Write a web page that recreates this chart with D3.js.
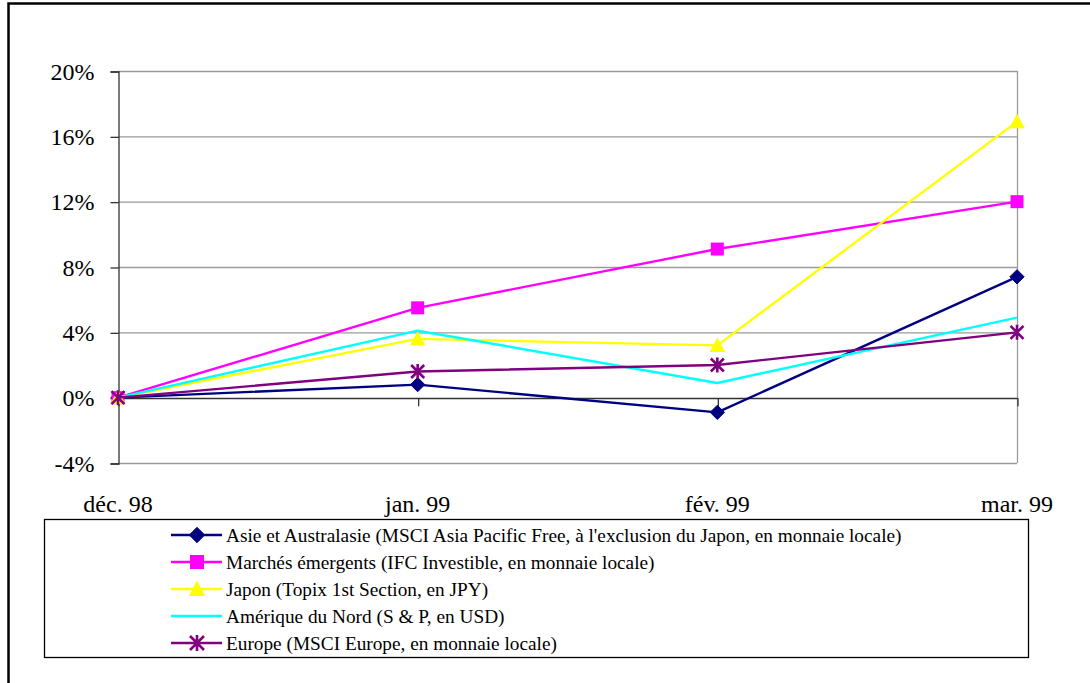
<!DOCTYPE html>
<html>
<head>
<meta charset="utf-8">
<script src="https://cdn.jsdelivr.net/npm/d3@7"></script>
<style>
  html, body { margin: 0; padding: 0; background: #fff; }
  svg, svg text { font-family: "Times New Roman", "Liberation Serif", Tinos, "DejaVu Serif", serif; }
</style>
</head>
<body>
<svg id="chart" width="1090" height="683"></svg>
<script>
// Monthly cumulative index performance, Dec 1998 to Mar 1999
const months = ["déc. 98", "jan. 99", "fév. 99", "mar. 99"];
const yTicks = [-0.04, 0, 0.04, 0.08, 0.12, 0.16, 0.20];

const asieValues      = [0, 0.008, -0.009, 0.074];
const emergentsValues = [0, 0.055, 0.091, 0.120];
const japonValues     = [0, 0.036, 0.032, 0.169];
const ameriqueValues  = [0, 0.041, 0.009, 0.049];
const europeValues    = [0, 0.016, 0.020, 0.040];

const seriesNames = [
  "Asie et Australasie (MSCI Asia Pacific Free, à l'exclusion du Japon, en monnaie locale)",
  "Marchés émergents (IFC Investible, en monnaie locale)",
  "Japon (Topix 1st Section, en JPY)",
  "Amérique du Nord (S & P, en USD)",
  "Europe (MSCI Europe, en monnaie locale)"
];

const series = [
  { name: seriesNames[0], values: asieValues,      color: "#000080", marker: "diamond" },
  { name: seriesNames[1], values: emergentsValues, color: "#FF00FF", marker: "square" },
  { name: seriesNames[2], values: japonValues,     color: "#FFFF00", marker: "triangle" },
  { name: seriesNames[3], values: ameriqueValues,  color: "#00FFFF", marker: "none" },
  { name: seriesNames[4], values: europeValues,    color: "#800080", marker: "star" }
];

const serifFont = "'Times New Roman', 'Liberation Serif', Tinos, 'DejaVu Serif', serif";

const svg = d3.select("#chart");

// Outer chart frame (extends past the right and bottom edges)
svg.append("rect")
  .attr("x", 8.5).attr("y", 3.5)
  .attr("width", 1200).attr("height", 800)
  .attr("fill", "none").attr("stroke", "#000").attr("stroke-width", 2.5);

const plot = { left: 118, right: 1017, top: 71, bottom: 463 };

const x = d3.scalePoint().domain(months).range([plot.left, plot.right]).padding(0);
const y = d3.scaleLinear().domain([-0.04, 0.20]).range([plot.bottom, plot.top]);

// Horizontal gridlines and plot border
const grid = svg.append("g");
grid.selectAll("line.grid")
  .data(yTicks)
  .join("line")
  .attr("x1", plot.left).attr("x2", plot.right)
  .attr("y1", d => y(d) + 0.5).attr("y2", d => y(d) + 0.5)
  .attr("stroke", "#9a9a9a").attr("stroke-width", 1.3);
grid.append("line")
  .attr("x1", plot.right + 0.5).attr("x2", plot.right + 0.5)
  .attr("y1", plot.top).attr("y2", plot.bottom)
  .attr("stroke", "#9a9a9a").attr("stroke-width", 1.3);

// Y axis
const yAxis = d3.axisLeft(y)
  .tickValues(yTicks)
  .tickSize(8)
  .tickPadding(16)
  .tickFormat(d => Math.round(d * 100) + "%");
const gy = svg.append("g")
  .attr("transform", `translate(${plot.left + 0.5},0.5)`)
  .call(yAxis)
  .attr("font-family", serifFont)
  .attr("font-size", 24);
gy.select(".domain").attr("stroke", "#333").attr("stroke-width", 1.3);
gy.selectAll(".tick line").attr("stroke", "#333").attr("stroke-width", 1.3);
gy.selectAll(".tick text").attr("fill", "#000");

// X axis along the zero line
const xAxis = d3.axisBottom(x).tickSize(8).tickSizeOuter(0).tickFormat(() => "");
const gx = svg.append("g")
  .attr("transform", `translate(0.5,${y(0) + 0.5})`)
  .call(xAxis);
gx.select(".domain").attr("stroke", "#333").attr("stroke-width", 1.3);
gx.selectAll(".tick line").attr("stroke", "#333").attr("stroke-width", 1.3);

// Category labels below the plot
svg.append("g")
  .attr("font-family", serifFont)
  .attr("font-size", 24)
  .selectAll("text")
  .data(months)
  .join("text")
  .attr("x", d => x(d))
  .attr("y", 512)
  .attr("text-anchor", "middle")
  .attr("fill", "#000")
  .text(d => d);

// Marker shapes
function drawMarker(g, type, color, size) {
  const s = size;
  if (type === "diamond") {
    g.append("path")
      .attr("d", `M0,${-s * 0.55}L${s * 0.55},0L0,${s * 0.55}L${-s * 0.55},0Z`)
      .attr("fill", color).attr("stroke", color).attr("stroke-width", 1);
  } else if (type === "square") {
    g.append("rect")
      .attr("x", -s / 2).attr("y", -s / 2).attr("width", s).attr("height", s)
      .attr("fill", color);
  } else if (type === "triangle") {
    g.append("path")
      .attr("d", `M0,${-s * 0.6}L${s * 0.6},${s * 0.5}L${-s * 0.6},${s * 0.5}Z`)
      .attr("fill", color);
  } else if (type === "star") {
    const r = s * 0.5;
    g.append("path")
      .attr("d", `M${-r},${-r}L${r},${r}M${-r},${r}L${r},${-r}M0,${-r * 1.15}L0,${r * 1.15}`)
      .attr("stroke", color).attr("stroke-width", 2.6).attr("fill", "none");
  }
}

const line = d3.line()
  .x((d, i) => x(months[i]))
  .y(d => y(d));

const marks = svg.append("g");
series.forEach(s => {
  const g = marks.append("g");
  g.append("path")
    .datum(s.values)
    .attr("d", line)
    .attr("fill", "none")
    .attr("stroke", s.color)
    .attr("stroke-width", 2.4)
    .attr("stroke-linejoin", "round");
  s.values.forEach((v, i) => {
    const mg = g.append("g").attr("transform", `translate(${x(months[i])},${y(v)})`);
    drawMarker(mg, s.marker, s.color, 13);
  });
});

// Legend
const legend = { x: 44, y: 519, w: 984, h: 138 };
svg.append("rect")
  .attr("x", legend.x + 0.5).attr("y", legend.y + 0.5)
  .attr("width", legend.w).attr("height", legend.h)
  .attr("fill", "#fff").attr("stroke", "#000").attr("stroke-width", 1.3);

const rowY = d3.scalePoint().domain(seriesNames).range([535, 643]);
const lg = svg.append("g")
  .attr("font-family", serifFont)
  .attr("font-size", 19.3);
series.forEach(s => {
  const cy = rowY(s.name);
  const row = lg.append("g");
  row.append("line")
    .attr("x1", 171).attr("x2", 222)
    .attr("y1", cy).attr("y2", cy)
    .attr("stroke", s.color).attr("stroke-width", 2.6);
  const mg = row.append("g").attr("transform", `translate(197,${cy})`);
  drawMarker(mg, s.marker, s.color, 14);
  row.append("text")
    .attr("x", 226).attr("y", cy)
    .attr("dy", "0.35em")
    .attr("fill", "#000")
    .text(s.name);
});
</script>
</body>
</html>
